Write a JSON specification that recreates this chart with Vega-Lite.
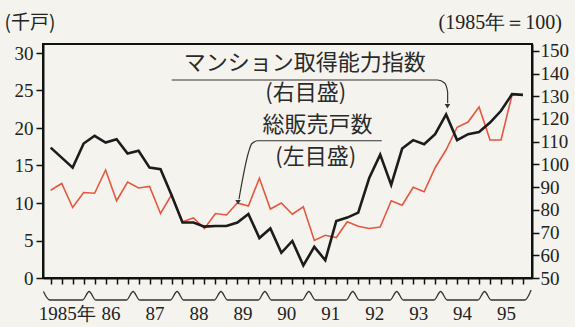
{
  "$schema": "https://vega.github.io/schema/vega-lite/v6.json",
  "width": 489,
  "height": 234,
  "autosize": {"type": "none"},
  "padding": {"left": 43, "top": 44, "right": 43, "bottom": 49},
  "background": "#f4f3ee",
  "config": {
    "view": {"stroke": "#111111", "strokeWidth": 2},
    "axis": {"grid": false, "domainColor": "#111111", "domainWidth": 2, "tickColor": "#111111", "tickWidth": 1.5, "labelColor": "#222222", "labelFont": "Liberation Serif", "labelFontSize": 19, "titleColor": "#222222", "titleFontWeight": "normal"}
  },
  "datasets": {
    "series": [
      {"t": 1985.125, "sales": 11.7, "index": 107.4},
      {"t": 1985.375, "sales": 12.6, "index": 103},
      {"t": 1985.625, "sales": 9.4, "index": 98.6},
      {"t": 1985.875, "sales": 11.4, "index": 109.2},
      {"t": 1986.125, "sales": 11.3, "index": 112.6},
      {"t": 1986.375, "sales": 14.4, "index": 109.6},
      {"t": 1986.625, "sales": 10.3, "index": 111.1},
      {"t": 1986.875, "sales": 12.8, "index": 104.8},
      {"t": 1987.125, "sales": 12.0, "index": 106},
      {"t": 1987.375, "sales": 12.2, "index": 98.6},
      {"t": 1987.625, "sales": 8.6, "index": 97.9},
      {"t": 1987.875, "sales": 11.1, "index": 86.5},
      {"t": 1988.125, "sales": 7.5, "index": 74.4},
      {"t": 1988.375, "sales": 8.0, "index": 74.4},
      {"t": 1988.625, "sales": 6.6, "index": 72.6},
      {"t": 1988.875, "sales": 8.6, "index": 72.9},
      {"t": 1989.125, "sales": 8.4, "index": 72.9},
      {"t": 1989.375, "sales": 10.0, "index": 74.4},
      {"t": 1989.625, "sales": 9.6, "index": 78.2},
      {"t": 1989.875, "sales": 13.3, "index": 67.6},
      {"t": 1990.125, "sales": 9.2, "index": 71.8},
      {"t": 1990.375, "sales": 10.0, "index": 61.1},
      {"t": 1990.625, "sales": 8.5, "index": 66.3},
      {"t": 1990.875, "sales": 9.5, "index": 55.5},
      {"t": 1991.125, "sales": 5.0, "index": 63.7},
      {"t": 1991.375, "sales": 5.7, "index": 57.8},
      {"t": 1991.625, "sales": 5.4, "index": 75.1},
      {"t": 1991.875, "sales": 7.5, "index": 76.6},
      {"t": 1992.125, "sales": 6.9, "index": 78.8},
      {"t": 1992.375, "sales": 6.6, "index": 94},
      {"t": 1992.625, "sales": 6.8, "index": 104.3},
      {"t": 1992.875, "sales": 10.3, "index": 91},
      {"t": 1993.125, "sales": 9.7, "index": 107},
      {"t": 1993.375, "sales": 12.1, "index": 110.7},
      {"t": 1993.625, "sales": 11.5, "index": 108.9},
      {"t": 1993.875, "sales": 14.7, "index": 113.3},
      {"t": 1994.125, "sales": 17.1, "index": 122},
      {"t": 1994.375, "sales": 20.1, "index": 110.7},
      {"t": 1994.625, "sales": 20.8, "index": 113.3},
      {"t": 1994.875, "sales": 22.8, "index": 114.3},
      {"t": 1995.125, "sales": 18.4, "index": 118.4},
      {"t": 1995.375, "sales": 18.4, "index": 123.6},
      {"t": 1995.625, "sales": 24.4, "index": 130.9},
      {"t": 1995.875, "sales": null, "index": 130.6}
    ],
    "brace": [
      {"t": 1984.96, "v": -1.8}, {"t": 1985.1, "v": -2.93}, {"t": 1985.85, "v": -2.93},
      {"t": 1986.0, "v": -1.8}, {"t": 1986.15, "v": -2.93}, {"t": 1986.85, "v": -2.93},
      {"t": 1987.0, "v": -1.8}, {"t": 1987.15, "v": -2.93}, {"t": 1987.85, "v": -2.93},
      {"t": 1988.0, "v": -1.8}, {"t": 1988.15, "v": -2.93}, {"t": 1988.85, "v": -2.93},
      {"t": 1989.0, "v": -1.8}, {"t": 1989.15, "v": -2.93}, {"t": 1989.85, "v": -2.93},
      {"t": 1990.0, "v": -1.8}, {"t": 1990.15, "v": -2.93}, {"t": 1990.85, "v": -2.93},
      {"t": 1991.0, "v": -1.8}, {"t": 1991.15, "v": -2.93}, {"t": 1991.85, "v": -2.93},
      {"t": 1992.0, "v": -1.8}, {"t": 1992.15, "v": -2.93}, {"t": 1992.85, "v": -2.93},
      {"t": 1993.0, "v": -1.8}, {"t": 1993.15, "v": -2.93}, {"t": 1993.85, "v": -2.93},
      {"t": 1994.0, "v": -1.8}, {"t": 1994.15, "v": -2.93}, {"t": 1994.85, "v": -2.93},
      {"t": 1995.0, "v": -1.8}, {"t": 1995.15, "v": -2.93}, {"t": 1995.92, "v": -2.93},
      {"t": 1996.06, "v": -1.6}
    ],
    "leaders": [
      {"g": "a", "o": 1, "t": 1987.88, "v": 26.4},
      {"g": "a", "o": 2, "t": 1993.93, "v": 26.4},
      {"g": "a", "o": 3, "t": 1994.09, "v": 26.0},
      {"g": "a", "o": 4, "t": 1994.16, "v": 24.8},
      {"g": "a", "o": 5, "t": 1994.16, "v": 23.3},
      {"g": "b", "o": 1, "t": 1992.66, "v": 18.3},
      {"g": "b", "o": 2, "t": 1989.84, "v": 18.3},
      {"g": "b", "o": 3, "t": 1989.70, "v": 17.9},
      {"g": "b", "o": 4, "t": 1989.63, "v": 16.8},
      {"g": "b", "o": 5, "t": 1989.41, "v": 10.5}
    ],
    "arrows": [
      {"t": 1994.155, "v": 22.9},
      {"t": 1989.39, "v": 10.1}
    ],
    "notes": [
      {"t": 1990.907, "v": 28.67, "label": "マンション取得能力指数"},
      {"t": 1990.93, "v": 24.67, "label": "(右目盛)"},
      {"t": 1991.2, "v": 20.4, "label": "総販売戸数"},
      {"t": 1991.158, "v": 16.17, "label": "(左目盛)"}
    ]
  },
  "encoding": {
    "x": {
      "field": "t",
      "type": "quantitative",
      "scale": {"domain": [1984.95, 1996.08], "nice": false, "zero": false},
      "axis": {
        "title": null,
        "values": [1985.125, 1985.375, 1985.625, 1985.875, 1986.125, 1986.375, 1986.625, 1986.875, 1987.125, 1987.375, 1987.625, 1987.875, 1988.125, 1988.375, 1988.625, 1988.875, 1989.125, 1989.375, 1989.625, 1989.875, 1990.125, 1990.375, 1990.625, 1990.875, 1991.125, 1991.375, 1991.625, 1991.875, 1992.125, 1992.375, 1992.625, 1992.875, 1993.125, 1993.375, 1993.625, 1993.875, 1994.125, 1994.375, 1994.625, 1994.875, 1995.125, 1995.375, 1995.625, 1995.875],
        "labelExpr": "(datum.value % 1 == 0.375) ? (floor(datum.value) == 1985 ? '1985年' : substring(toString(floor(datum.value)), 2, 4)) : ''",
        "labelOffset": 5,
        "tickSize": 6,
        "labelPadding": 20,
        "labelFlush": false,
        "labelOverlap": false
      }
    }
  },
  "layer": [
    {
      "encoding": {
        "y": {
          "field": "v",
          "type": "quantitative",
          "scale": {"domain": [0, 31.2], "nice": false, "zero": false},
          "axis": {
            "orient": "left",
            "values": [0, 5, 10, 15, 20, 25, 30],
            "tickSize": 7,
            "labelPadding": 3,
            "title": "(千戸)",
            "titleAngle": 0,
            "titleAlign": "left",
            "titleBaseline": "middle",
            "titleX": -39,
            "titleY": -22,
            "titleFont": "Noto Sans CJK JP",
            "titleFontSize": 19
          }
        }
      },
      "layer": [
        {
          "data": {"name": "series"},
          "mark": {"type": "line", "color": "#e5573f", "strokeWidth": 1.6},
          "encoding": {
            "y": {
              "field": "sales",
              "type": "quantitative",
              "scale": {"domain": [0, 31.2], "nice": false, "zero": false},
              "axis": {
                "orient": "left",
                "values": [0, 5, 10, 15, 20, 25, 30],
                "tickSize": 7,
                "labelPadding": 3,
                "title": "(千戸)",
                "titleAngle": 0,
                "titleAlign": "left",
                "titleBaseline": "middle",
                "titleX": -39,
                "titleY": -22,
                "titleFont": "Noto Sans CJK JP",
                "titleFontSize": 19
              }
            }
          }
        },
        {
          "data": {"name": "brace"},
          "mark": {"type": "line", "color": "#333333", "strokeWidth": 1.3, "interpolate": "monotone", "clip": false}
        },
        {
          "data": {"name": "leaders"},
          "mark": {"type": "line", "color": "#333333", "strokeWidth": 1.2, "interpolate": "monotone"},
          "encoding": {
            "detail": {"field": "g"},
            "order": {"field": "o", "type": "quantitative"}
          }
        },
        {
          "data": {"name": "arrows"},
          "mark": {"type": "point", "shape": "triangle-down", "filled": true, "color": "#333333", "size": 30, "opacity": 1}
        },
        {
          "data": {"name": "notes"},
          "mark": {"type": "text", "font": "Noto Sans CJK JP", "fontSize": 22, "color": "#2a2a2a", "align": "center", "baseline": "middle"},
          "encoding": {
            "text": {"field": "label"}
          }
        }
      ]
    },
    {
      "data": {"name": "series"},
      "mark": {"type": "line", "color": "#1c1c1c", "strokeWidth": 2.6},
      "encoding": {
        "y": {
          "field": "index",
          "type": "quantitative",
          "scale": {"domain": [50, 153], "nice": false, "zero": false},
          "axis": {
            "orient": "right",
            "values": [50, 60, 70, 80, 90, 100, 110, 120, 130, 140, 150],
            "tickSize": 7,
            "labelPadding": 1,
            "title": "(1985年＝100)",
            "titleAngle": 0,
            "titleAlign": "left",
            "titleBaseline": "middle",
            "titleX": -94,
            "titleY": -22,
            "titleFont": "Liberation Serif",
            "titleFontSize": 20
          }
        }
      }
    }
  ],
  "resolve": {"scale": {"y": "independent"}, "axis": {"y": "independent"}}
}
